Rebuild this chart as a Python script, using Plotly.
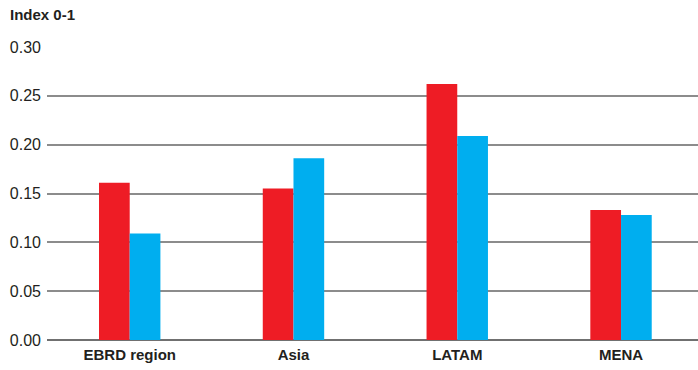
import plotly.graph_objects as go

categories = ["EBRD region", "Asia", "LATAM", "MENA"]
series_red = [0.161, 0.155, 0.262, 0.133]
series_blue = [0.109, 0.186, 0.209, 0.128]
tick_vals = [0.00, 0.05, 0.10, 0.15, 0.20, 0.25, 0.30]
tick_text = ["0.00", "0.05", "0.10", "0.15", "0.20", "0.25", "0.30"]

fig = go.Figure()
fig.add_trace(go.Bar(x=categories, y=series_red, marker=dict(color="#ee1c25", line=dict(width=0)), name="A"))
fig.add_trace(go.Bar(x=categories, y=series_blue, marker=dict(color="#00aeef", line=dict(width=0)), name="B"))

fig.update_layout(
    width=698, height=370,
    margin=dict(l=47, r=0, t=47, b=30),
    paper_bgcolor="white", plot_bgcolor="white",
    barmode="group", bargap=0.625, bargroupgap=0,
    showlegend=False,
    font=dict(family="Liberation Sans, Arial, sans-serif", color="#231f20"),
)
fig.update_xaxes(
    range=[-0.505, 3.47],
    showgrid=False, showline=False, ticks="",
    tickfont=dict(size=15, family="Liberation Sans, Arial, sans-serif", weight="bold"),
    ticklabelstandoff=4,
)
fig.update_yaxes(
    range=[0, 0.30], tickvals=tick_vals, ticktext=tick_text,
    showgrid=True, gridcolor="#8c8c8c", gridwidth=1.5,
    zeroline=True, zerolinecolor="#707070", zerolinewidth=1.5,
    tickfont=dict(size=16, color="#231f20"),
    ticks="", ticklabelstandoff=5,
)
fig.add_annotation(
    text="<b>Index 0-1</b>", xref="paper", yref="paper",
    x=-39/651, y=1 + 33/293, xanchor="left", yanchor="middle",
    showarrow=False, font=dict(size=15, color="#231f20"),
)
fig.write_html(
    "out.html",
    config={"displayModeBar": False},
    post_script="document.body.style.margin='0';document.body.style.padding='0';",
)
